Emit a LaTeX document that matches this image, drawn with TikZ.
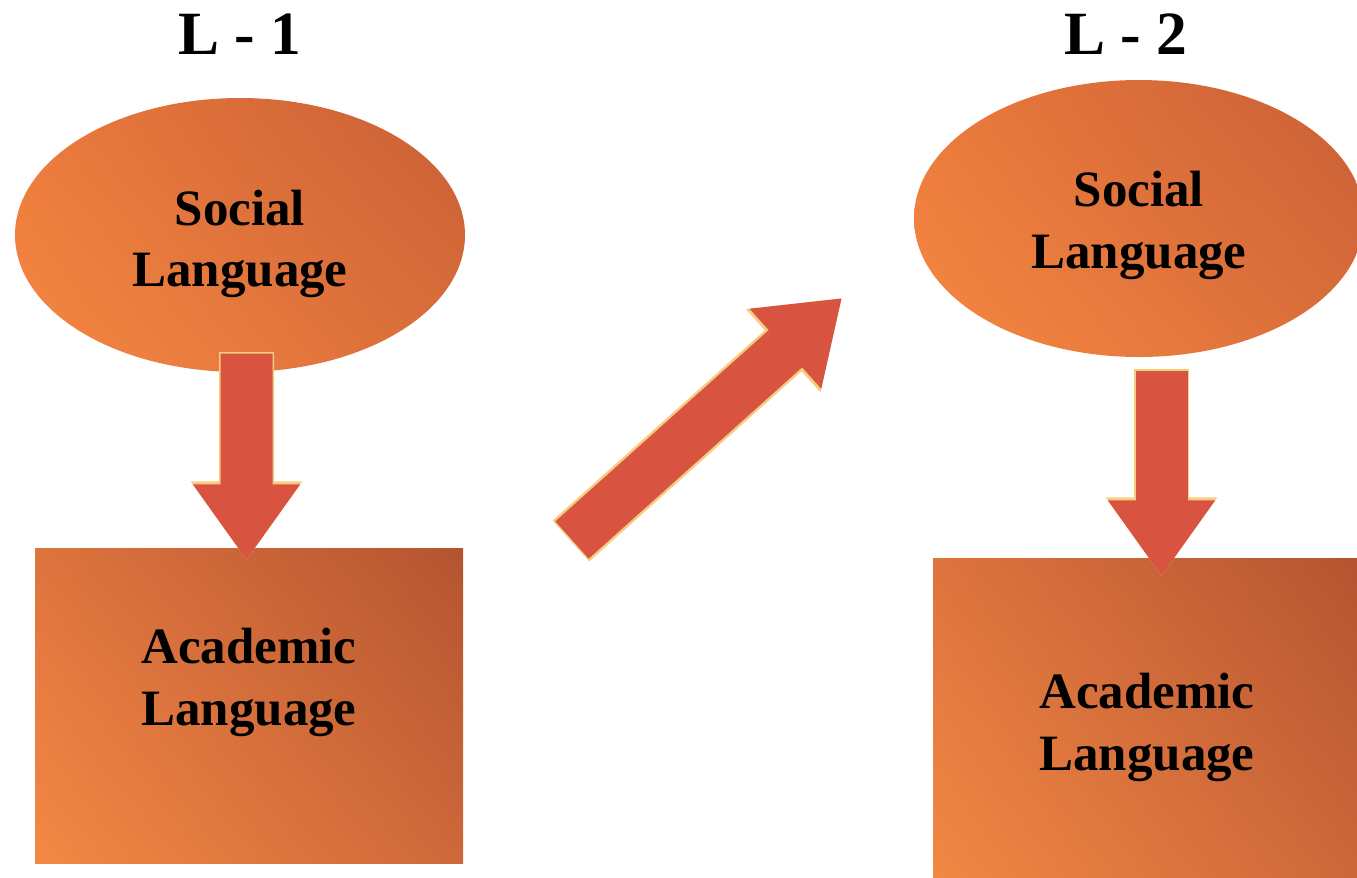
\documentclass[tikz,border=0pt]{standalone}
\usepackage{fontspec}
\setmainfont{Liberation Serif}
\usepackage{tikz}
\usetikzlibrary{positioning,shapes.geometric,arrows.meta,shadings}
\definecolor{arrowred}{RGB}{216,84,64}
\definecolor{arrowrim}{RGB}{246,204,130}
\definecolor{ellUL}{RGB}{234,122,60}
\definecolor{ellLL}{RGB}{246,136,66}
\definecolor{ellUR}{RGB}{200,94,54}
\definecolor{ellLR}{RGB}{218,110,58}
\definecolor{boxUL}{RGB}{222,116,62}
\definecolor{boxLL}{RGB}{243,137,68}
\definecolor{boxUR}{RGB}{180,84,48}
\definecolor{boxLR}{RGB}{205,104,58}
\tikzstyle{soc}=[ellipse, minimum width=4.5cm, minimum height=2.74cm, inner sep=0pt, shade, shading=bilinear interpolation, upper left=ellUL, lower left=ellLL, upper right=ellUR, lower right=ellLR]
\tikzstyle{acad}=[rectangle, minimum width=4.28cm, minimum height=3.15cm, inner sep=0pt, shade, shading=bilinear interpolation, upper left=boxUL, lower left=boxLL, upper right=boxUR, lower right=boxLR]
\tikzstyle{lbl}=[align=center, font=\bfseries\fontsize{14.5}{17.6}\selectfont]
\tikzstyle{ttl}=[font=\bfseries\fontsize{17.5}{21}\selectfont]
\tikzstyle{fat}=[draw=arrowred, line width=5.2mm, -{Triangle[length=7.6mm, width=10.2mm]}, preaction={draw=arrowrim, line width=5.5mm, shorten <=-0.15mm, -{Triangle[length=7.9mm, width=10.6mm]}}]

\begin{document}
\begin{tikzpicture}[node distance=2cm]
\useasboundingbox (0,0) rectangle (13.57,-8.77);

% first language
\node[soc] at (2.40,-2.35) (soc1) {};
\node[ttl, above of = soc1, node distance = 2.01cm] (ttl1) {L - 1};
\node[lbl, below of = soc1, node distance = 0.9mm] (soc1t) {Social\\Language};
\node[acad] at (2.49,-7.055) (aca1) {};
\node[lbl, above of = aca1, node distance = 2.35mm] (aca1t) {Academic\\Language};
\draw[fat] ([shift={(0.065,0.19)}]soc1.south) -- ([shift={(-0.025,-0.13)}]aca1.north);

% second language
\node[soc, minimum height=2.77cm] at (11.39,-2.185) (soc2) {};
\node[ttl, above of = soc2, node distance = 1.845cm, xshift=-1.3mm] (ttl2) {L - 2};
\node[lbl, below of = soc2, node distance = 0.7mm] (soc2t) {Social\\Language};
\node[acad, minimum height=3.38cm] at (11.47,-7.27) (aca2) {};
\node[lbl] at (aca2) (aca2t) {Academic\\Language};
\draw[fat] ([shift={(0.225,-0.13)}]soc2.south) -- ([shift={(0.145,-0.19)}]aca2.north);

% transfer
\coordinate (tail) at (5.72,-5.40);
\coordinate (head) at (8.42,-2.98);
\draw[fat, line width=5mm] (tail) -- (head);
\end{tikzpicture}
\end{document}
